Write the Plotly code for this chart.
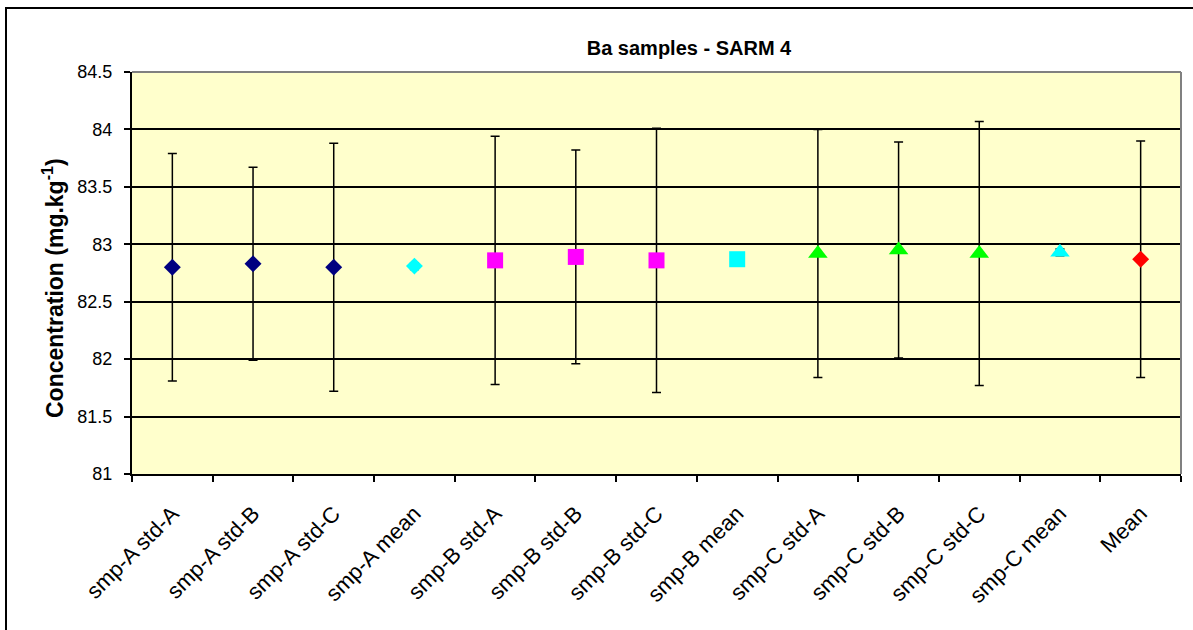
import plotly.graph_objects as go

# Categories along the x axis
categories = [
    "smp-A std-A", "smp-A std-B", "smp-A std-C", "smp-A mean",
    "smp-B std-A", "smp-B std-B", "smp-B std-C", "smp-B mean",
    "smp-C std-A", "smp-C std-B", "smp-C std-C", "smp-C mean",
    "Mean",
]

# Ba concentration (mg/kg) and its uncertainty for each category
concentration = [82.80, 82.83, 82.80, 82.81,
                 82.86, 82.89, 82.86, 82.87,
                 82.92, 82.95, 82.92, 82.93,
                 82.87]
uncertainty = [0.99, 0.84, 1.08, 0.03,
               1.08, 0.93, 1.15, 0.02,
               1.08, 0.94, 1.15, 0.03,
               1.03]

# Marker styling per point
marker_symbols = ["diamond", "diamond", "diamond", "diamond",
                  "square", "square", "square", "square",
                  "triangle-up", "triangle-up", "triangle-up", "triangle-up",
                  "diamond"]
marker_colors = ["#000080", "#000080", "#000080", "#00FFFF",
                 "#FF00FF", "#FF00FF", "#FF00FF", "#00FFFF",
                 "#00FF00", "#00FF00", "#00FF00", "#00FFFF",
                 "#FF0000"]
marker_sizes = [13, 13, 13, 13,
                16, 16, 16, 16,
                17, 17, 17, 17,
                13]

y_ticks = [81, 81.5, 82, 82.5, 83, 83.5, 84, 84.5]

W, H = 1193, 630
ML, MR, MT, MB = 132, 12, 72, 156
PW, PH = W - ML - MR, H - MT - MB

FONT = "Arial, Liberation Sans, sans-serif"

fig = go.Figure()
fig.add_trace(go.Scatter(
    x=categories,
    y=concentration,
    mode="markers",
    marker=dict(symbol=marker_symbols, color=marker_colors, size=marker_sizes,
                opacity=1, line=dict(width=0)),
    error_y=dict(type="data", array=uncertainty, visible=True,
                 color="#000000", thickness=1.5, width=4.5),
    showlegend=False,
    hoverinfo="x+y",
))


def px_x(p):
    return (p - ML) / PW


def px_y(p):
    return 1 - (p - MT) / PH


shapes = [
    # gray frame on the top and right of the plot area
    dict(type="line", xref="paper", yref="paper", x0=0, x1=1, y0=1, y1=1,
         line=dict(color="#808080", width=2), layer="above"),
    dict(type="line", xref="paper", yref="paper", x0=1, x1=1, y0=0, y1=1,
         line=dict(color="#808080", width=2), layer="above"),
    # outer chart frame
    dict(type="rect", xref="paper", yref="paper",
         x0=px_x(6), x1=px_x(W + 20), y0=px_y(8), y1=px_y(H + 20),
         line=dict(color="#000000", width=2), fillcolor="rgba(0,0,0,0)",
         layer="above"),
]

fig.update_layout(
    width=W, height=H,
    margin=dict(l=ML, r=MR, t=MT, b=MB, autoexpand=False),
    paper_bgcolor="#FFFFFF",
    plot_bgcolor="#FFFFCC",
    font=dict(family=FONT, color="#000000"),
    title=dict(text="<b>Ba samples - SARM 4</b>", x=(689 / W), xanchor="center",
               y=1 - 48 / H, yanchor="middle",
               font=dict(size=20, family=FONT, color="#000000")),
    xaxis=dict(
        type="category",
        categoryorder="array", categoryarray=categories,
        range=[-0.5, len(categories) - 0.5],
        tickson="boundaries",
        ticks="outside", ticklen=6, tickwidth=1.5, tickcolor="#000000",
        tickangle=-45,
        ticklabelstandoff=16,
        tickfont=dict(size=22, family=FONT, color="#000000"),
        showgrid=False,
        showline=True, linecolor="#000000", linewidth=2,
        zeroline=False,
    ),
    yaxis=dict(
        range=[81, 84.5],
        tickmode="array", tickvals=y_ticks,
        ticktext=[f"{v:g}" for v in y_ticks],
        ticks="outside", ticklen=6, tickwidth=1.5, tickcolor="#000000",
        ticklabelstandoff=8,
        tickfont=dict(size=18, family=FONT, color="#000000"),
        showgrid=True, gridcolor="#000000", gridwidth=1.5,
        showline=True, linecolor="#000000", linewidth=2,
        zeroline=False,
    ),
    shapes=shapes,
    annotations=[
        dict(text="<b>Concentration (mg.kg<sup>-1</sup>)</b>",
             xref="paper", yref="paper", x=px_x(53), y=px_y(288),
             xanchor="center", yanchor="middle", textangle=-90,
             showarrow=False,
             font=dict(size=23, family=FONT, color="#000000")),
    ],
)

fig.write_html("out.html")
